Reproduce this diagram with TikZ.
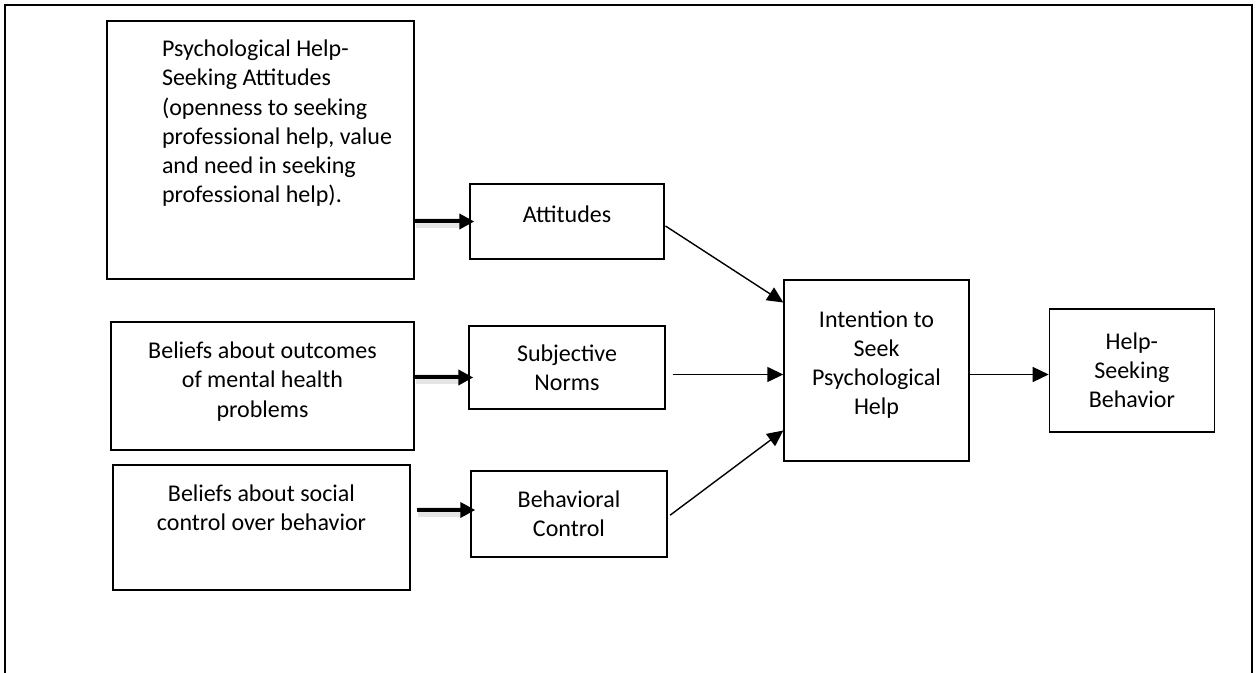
\documentclass[tikz,border=0pt]{standalone}
\usepackage{fontspec}
\setmainfont{Carlito}
\usetikzlibrary{arrows.meta,positioning}
\newcommand{\toptext}[4]{\parbox[t][#2][t]{#1}{\vspace*{#3}#4}}

\begin{document}
\begin{tikzpicture}[x=0.5pt,y=-0.5pt,
  txt/.style={font=\fontsize{12}{14.6}\selectfont},
  src/.style={draw,line width=0.7pt,inner sep=0pt,txt},
  mid/.style={draw,line width=0.7pt,inner sep=2pt,align=center,txt},
  arr/.style={-{Triangle[length=8pt,width=7.5pt]},line width=0.7pt},
  thk/.style={-{Triangle[length=7.5pt,width=7.5pt]},line width=2pt,shorten >=-2.5pt,
    preaction={draw=black!10,line width=5pt,-,shorten >=5pt,
      transform canvas={shift={(0.5pt,-1pt)}}}}]
  \useasboundingbox (0,0) rectangle (1259,673);
  % page frame, open at the bottom
  \draw[line width=1.2pt] (5,673) -- (5,5) -- (1252,5) -- (1252,673);
  % belief boxes
  \node[src] (phsa) at (260.5,150) {\toptext{153.5pt}{129pt}{9.5pt}{\raggedright\leftskip=27.5pt
    Psychological Help-\\Seeking Attitudes\\(openness to seeking\\professional help, value\\
    and need in seeking\\professional help).}};
  \node[src] (outc) at (262.5,386) {\toptext{151.5pt}{64pt}{10pt}{\centering
    Beliefs about outcomes\\of mental health\\problems}};
  \node[src] (socl) at (261.5,527.5) {\toptext{148.5pt}{62.5pt}{10pt}{\centering
    Beliefs about social\\control over behavior}};
  % determinants
  \node[mid,minimum width=97pt,minimum height=37.5pt] (att) at (567,221.5) {Attitudes\\[-7pt]\mbox{}};
  \node[mid,minimum width=98pt,minimum height=41.5pt] (sn) at (567,367.5) {Subjective\\Norms};
  \node[mid,minimum width=98pt,minimum height=43pt] (bc) at (569,514) {Behavioral\\Control};
  \node[mid,minimum width=92.5pt,minimum height=90.5pt] (int) at (876.5,370.5)
    {Intention to\\Seek\\Psychological\\Help\\[-7pt]\mbox{}};
  \node[mid,minimum width=82.5pt,minimum height=61.5pt,right=39.5pt of int] (hsb)
    {Help-\\Seeking\\Behavior};
  % thick arrows
  \draw[thk] (phsa.east |- att.west) -- (att.west);
  \draw[thk] ([yshift=-5pt]sn.west -| outc.east) -- ([yshift=-5pt]sn.west);
  \draw[thk,shorten <=3pt] ([yshift=2pt]bc.west -| socl.east) -- ([yshift=2pt]bc.west);
  % thin arrows
  \draw[arr,shorten <=0.5pt] ([yshift=-2pt]att.east) -- ([yshift=34pt]int.west);
  \draw[arr,shorten <=3.5pt] ([yshift=-2pt]int.west -| sn.east) -- ([yshift=-2pt]int.west);
  \draw[arr,shorten <=1.5pt] ([yshift=-1.5pt]bc.east) -- ([yshift=-30pt]int.west);
  \draw[arr] ([yshift=-2pt]int.east) -- ([yshift=-2pt]hsb.west);
\end{tikzpicture}
\end{document}
